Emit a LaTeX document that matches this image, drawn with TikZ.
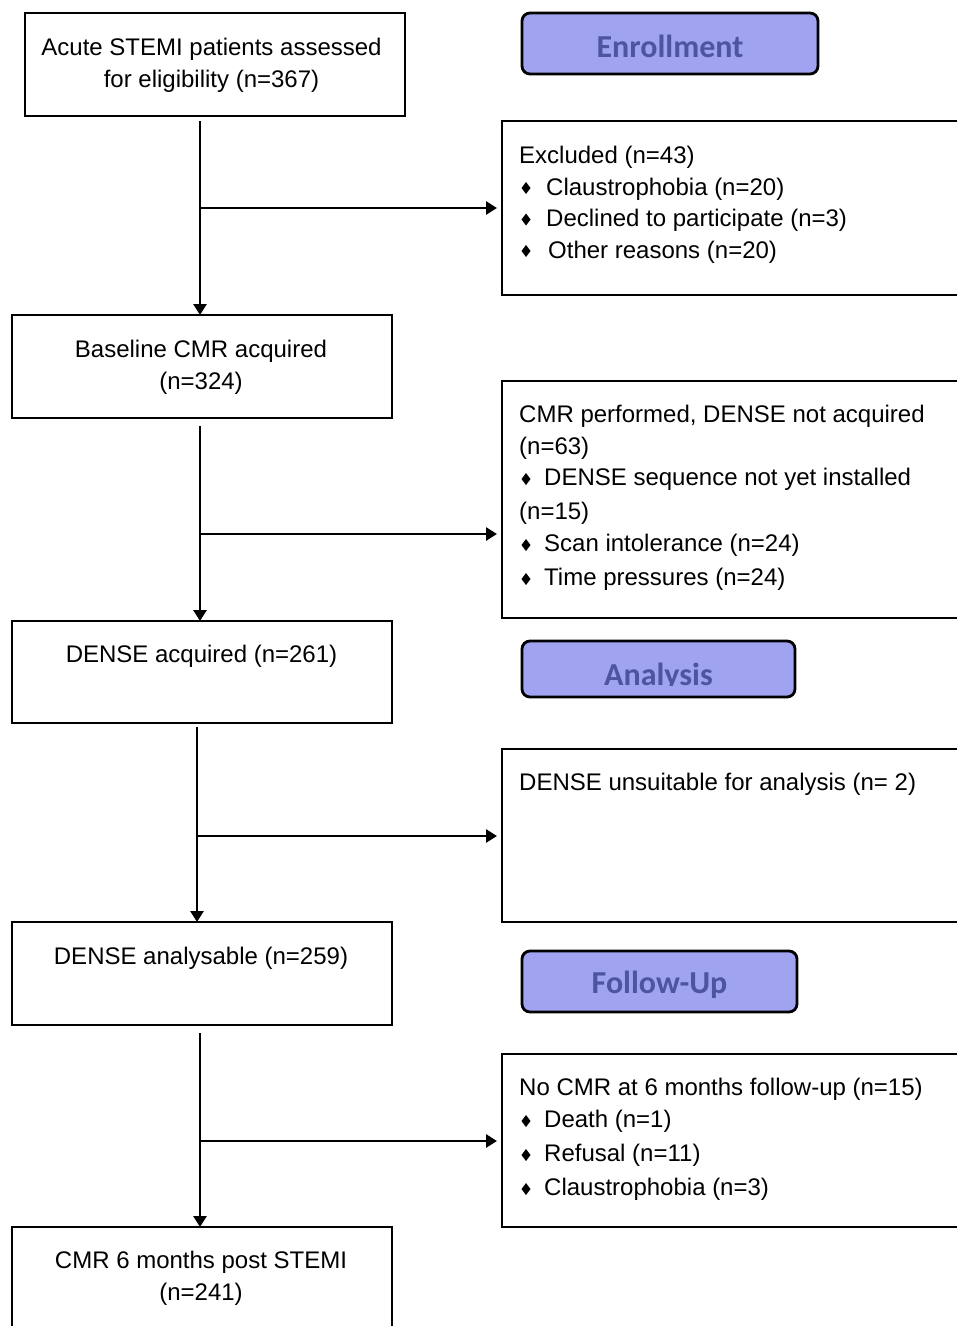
\documentclass[tikz,border=0pt]{standalone}
\usepackage{fontspec}
\setmainfont{Liberation Sans}
\newfontfamily\hdfont{Carlito}
\usetikzlibrary{arrows.meta,calc}
\definecolor{hdfill}{RGB}{160,164,240}
\definecolor{hdtext}{RGB}{78,84,160}
\newcommand\bul[2]{\fill (#1,#2) +(-4.5,0) -- +(0,-6) -- +(4.5,0) -- +(0,6) -- cycle;}
\begin{document}
\begin{tikzpicture}[x=1pt,y=-1pt,
  box/.style={draw, line width=2.8pt, inner sep=0pt, outer sep=0pt},
  hd/.style={draw, line width=2.8pt, rounded corners=8pt, fill=hdfill, inner sep=0pt, outer sep=0pt},
  hdtxt/.style={font=\hdfont\bfseries\fontsize{32}{32}\selectfont, text=hdtext, anchor=base, inner sep=0pt},
  txt/.style={font=\fontsize{24}{32}\selectfont, inner sep=0pt},
  ctxt/.style={txt, anchor=base},
  ltxt/.style={txt, anchor=base west},
  arr/.style={line width=2.8pt, -{Triangle[length=11pt,width=13pt]}}]
\clip (0,0) rectangle (957,1326);
\fill[white] (0,0) rectangle (957,1326);

% left column boxes
\node[box, minimum width=380, minimum height=103] (a) at (215,64.5) {};
\node[ctxt] (a1) at (211.5,55) {Acute STEMI patients assessed};
\node[ctxt] (a2) at (211.5,87) {for eligibility (n=367)};

\node[box, minimum width=380, minimum height=103] (b) at (202,366.5) {};
\node[ctxt] (b1) at (201,357.5) {Baseline CMR acquired};
\node[ctxt] (b2) at (201,389) {(n=324)};

\node[box, minimum width=380, minimum height=102] (c) at (202,672) {};
\node[ctxt] (c1) at (201.5,662.5) {DENSE acquired (n=261)};

\node[box, minimum width=380, minimum height=103] (d) at (202,973.5) {};
\node[ctxt] (d1) at (201,964.5) {DENSE analysable (n=259)};

\node[box, minimum width=380, minimum height=120] (e) at (202,1287) {};
\node[ctxt] (e1) at (201,1268.5) {CMR 6 months post STEMI};
\node[ctxt] (e2) at (201,1300.5) {(n=241)};

% right column boxes
\node[box, minimum width=470, minimum height=174] (ex) at (737,208) {};
\node[ltxt] (ex0) at (519,163) {Excluded (n=43)};
\node[ltxt] (ex1) at (546,195) {Claustrophobia (n=20)};
\node[ltxt] (ex2) at (546,226.5) {Declined to participate (n=3)};
\node[ltxt] (ex3) at (548,258) {Other reasons (n=20)};
\bul{526}{188}\bul{526}{219.5}\bul{526}{251}

\node[box, minimum width=470, minimum height=237] (cmr) at (737,499.5) {};
\node[ltxt] (cmr0) at (519,422.5) {CMR performed, DENSE not acquired};
\node[ltxt] (cmr1) at (519,454.5) {(n=63)};
\node[ltxt] (cmr2) at (544,485.5) {DENSE sequence not yet installed};
\node[ltxt] (cmr3) at (519,519.5) {(n=15)};
\node[ltxt] (cmr4) at (544,551.5) {Scan intolerance (n=24)};
\node[ltxt] (cmr5) at (544,585.5) {Time pressures (n=24)};
\bul{526}{479}\bul{526}{545}\bul{526}{579}

\node[box, minimum width=470, minimum height=173] (uns) at (737,835.5) {};
\node[ltxt] (uns0) at (519,790.5) {DENSE unsuitable for analysis (n= 2)};

\node[box, minimum width=470, minimum height=173] (no) at (737,1140.5) {};
\node[ltxt] (no0) at (519,1095.5) {No CMR at 6 months follow-up (n=15)};
\node[ltxt] (no1) at (544,1127.5) {Death (n=1)};
\node[ltxt] (no2) at (544,1161.5) {Refusal (n=11)};
\node[ltxt] (no3) at (544,1195.5) {Claustrophobia (n=3)};
\bul{526}{1121}\bul{526}{1155}\bul{526}{1189}

% headers
\node[hd, minimum width=296, minimum height=61] (enr) at (670,43.5) {};
\node[hdtxt] (enrt) at (670,57) {Enrollment};
\node[hd, minimum width=273, minimum height=56] (ana) at (658.5,669) {};
\begin{scope}
\clip (500,630) rectangle (800,685.3);
\node[hdtxt] (anat) at (658.5,685) {Analysis};
\end{scope}
\node[hd, minimum width=275, minimum height=61] (fu) at (659.5,981.5) {};
\node[hdtxt] (fut) at (659.5,993) {Follow-Up};

% vertical connectors
\coordinate (v1) at (200,0);
\coordinate (v3) at (197,0);
\draw[arr, shorten <=5pt] (a.south -| v1) -- (b.north -| v1);
\draw[arr, shorten <=8pt] (b.south -| v1) -- (c.north -| v1);
\draw[arr, shorten <=4pt] (c.south -| v3) -- (d.north -| v3);
\draw[arr, shorten <=8pt] (d.south -| v1) -- (e.north -| v1);

% horizontal connectors
\coordinate (h1) at (200,208);
\coordinate (h2) at (200,534);
\coordinate (h3) at (197,836);
\coordinate (h4) at (200,1141);
\draw[arr, shorten >=5pt] (h1) -- (h1 -| ex.west);
\draw[arr, shorten >=5pt] (h2) -- (h2 -| cmr.west);
\draw[arr, shorten >=5pt] (h3) -- (h3 -| uns.west);
\draw[arr, shorten >=5pt] (h4) -- (h4 -| no.west);
\end{tikzpicture}
\end{document}
